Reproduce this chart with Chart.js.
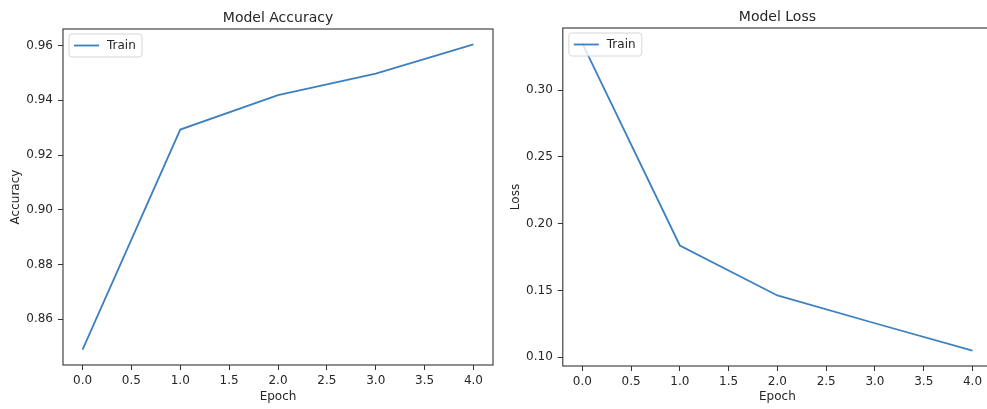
<!DOCTYPE html>
<html>
<head>
<meta charset="utf-8">
<script src="https://cdn.jsdelivr.net/npm/chart.js@4"></script>
<style>
  html, body { margin: 0; padding: 0; background: #fff; }
  body { width: 987px; height: 409px; overflow: hidden; position: relative; }
  canvas { position: absolute; top: 0; }
</style>
</head>
<body>
<canvas id="accChart" width="500" height="409" style="left:0"></canvas>
<canvas id="lossChart" width="510" height="409" style="left:490px"></canvas>
<script>
// DATA
const epochs = [0, 1, 2, 3, 4];
const trainAccuracy = [0.8488, 0.9293, 0.9419, 0.9498, 0.9605];
const trainLoss = [0.335, 0.1837, 0.1463, 0.1255, 0.105];

const epochTicks = [0, 0.5, 1, 1.5, 2, 2.5, 3, 3.5, 4];
const accTicks = [0.86, 0.88, 0.90, 0.92, 0.94, 0.96];
const lossTicks = [0.10, 0.15, 0.20, 0.25, 0.30];

const lineColor = '#3d80c0';
const inkColor = '#262626';
const fontFamily = '"DejaVu Sans", sans-serif';
const labelSize = 12;

// matplotlib style 5% margins
function padRange(values) {
  const lo = Math.min(...values), hi = Math.max(...values);
  const m = (hi - lo) * 0.05;
  return { min: lo - m, max: hi + m };
}

// frame, title and legend drawn like matplotlib
const mplPlugin = {
  id: 'mpl',
  afterDatasetsDraw(chart, args, opts) {
    const { ctx, chartArea: a } = chart;
    ctx.save();
    // spines
    ctx.strokeStyle = '#333';
    ctx.lineWidth = 1.1;
    ctx.strokeRect(a.left, a.top, a.right - a.left, a.bottom - a.top);
    // title
    ctx.fillStyle = inkColor;
    ctx.font = '14px ' + fontFamily;
    ctx.textAlign = 'center';
    ctx.textBaseline = 'alphabetic';
    ctx.fillText(opts.title, (a.left + a.right) / 2, a.top - 7);
    // legend
    const bx = a.left + 6, by = a.top + 5, bw = 73, bh = 23;
    ctx.beginPath();
    ctx.roundRect(bx, by, bw, bh, 3);
    ctx.fillStyle = 'rgba(255,255,255,0.8)';
    ctx.fill();
    ctx.strokeStyle = '#d6d6d6';
    ctx.lineWidth = 1;
    ctx.stroke();
    const ds = chart.data.datasets[0];
    ctx.beginPath();
    ctx.moveTo(bx + 5, by + bh / 2);
    ctx.lineTo(bx + 30, by + bh / 2);
    ctx.strokeStyle = ds.borderColor;
    ctx.lineWidth = ds.borderWidth;
    ctx.stroke();
    ctx.fillStyle = inkColor;
    ctx.font = labelSize + 'px ' + fontFamily;
    ctx.textAlign = 'left';
    ctx.textBaseline = 'middle';
    ctx.fillText(ds.label, bx + 38, by + bh / 2 + 0.5);
    ctx.restore();
  }
};

function makeChart(id, values, yTicks, cfg) {
  const range = padRange(values);
  return new Chart(document.getElementById(id), {
    type: 'line',
    data: {
      datasets: [{
        label: 'Train',
        data: epochs.map((e, i) => ({ x: e, y: values[i] })),
        borderColor: lineColor,
        backgroundColor: lineColor,
        borderWidth: 1.8,
        pointRadius: 0,
        tension: 0,
      }]
    },
    options: {
      responsive: false,
      animation: false,
      events: [],
      layout: { padding: { top: cfg.top, right: cfg.right, left: 0, bottom: 0 } },
      plugins: {
        legend: { display: false },
        title: { display: false },
        tooltip: { enabled: false },
        mpl: { title: cfg.title },
      },
      scales: {
        x: {
          type: 'linear',
          min: -0.2,
          max: 4.2,
          afterBuildTicks: s => { s.ticks = epochTicks.map(v => ({ value: v })); },
          afterFit: s => { s.height = cfg.xHeight; },
          ticks: {
            color: inkColor,
            font: { family: fontFamily, size: labelSize },
            padding: 4,
            maxRotation: 0,
            callback: v => v.toFixed(1),
          },
          grid: { drawOnChartArea: false, drawTicks: true, tickLength: 5, color: '#333', tickWidth: 1 },
          border: { display: false },
          title: {
            display: true, text: 'Epoch', color: inkColor,
            font: { family: fontFamily, size: labelSize },
            padding: { top: 0, bottom: 4.6 },
          },
        },
        y: {
          type: 'linear',
          min: range.min,
          max: range.max,
          afterBuildTicks: s => { s.ticks = yTicks.map(v => ({ value: v })); },
          afterFit: s => { s.width = cfg.yWidth; },
          ticks: {
            color: inkColor,
            font: { family: fontFamily, size: labelSize },
            padding: 5,
            callback: v => v.toFixed(2),
          },
          grid: { drawOnChartArea: false, drawTicks: true, tickLength: 5, color: '#333', tickWidth: 1 },
          border: { display: false },
          title: {
            display: true, text: cfg.yLabel, color: inkColor,
            font: { family: fontFamily, size: labelSize },
            padding: { top: cfg.yTitlePad, bottom: 0 },
          },
        }
      }
    },
    plugins: [mplPlugin]
  });
}

makeChart('accChart', trainAccuracy, accTicks, {
  title: 'Model Accuracy', yLabel: 'Accuracy',
  top: 29, right: 7, xHeight: 44, yWidth: 63, yTitlePad: 8.8,
});
makeChart('lossChart', trainLoss, lossTicks, {
  title: 'Model Loss', yLabel: 'Loss',
  top: 28, right: 8, xHeight: 43, yWidth: 72.8, yTitlePad: 18.8,
});
</script>
</body>
</html>
